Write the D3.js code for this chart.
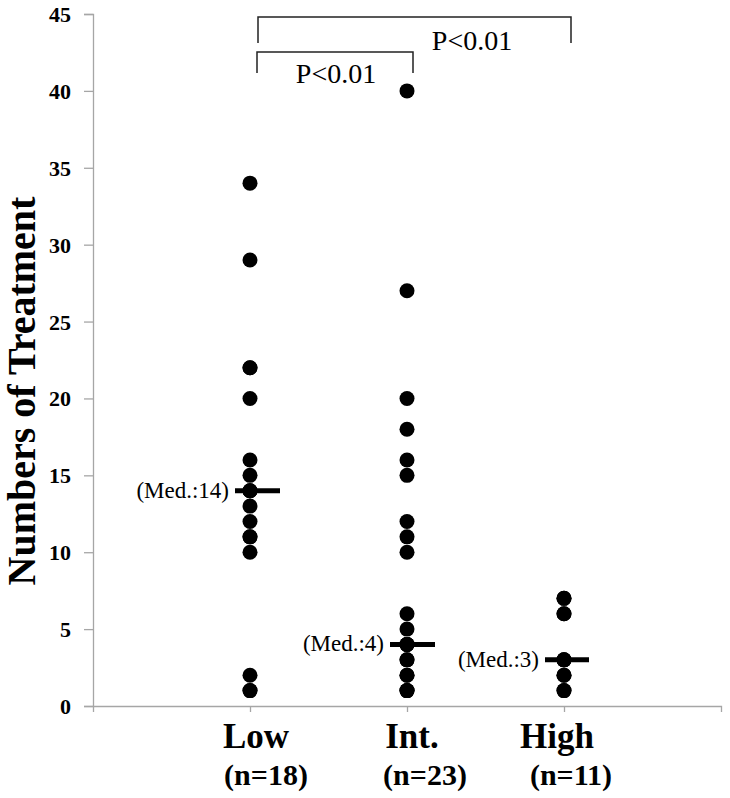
<!DOCTYPE html>
<html><head><meta charset="utf-8">
<script src="https://cdn.jsdelivr.net/npm/d3@7"></script>
<style>body{margin:0;background:#fff}svg{display:block}</style>
</head><body>
<script>
const categories = ["Low", "Int.", "High"];
const nLabels = ["(n=18)", "(n=23)", "(n=11)"];
const lowValues = [1,1,2,10,11,11,12,13,14,14,14,15,16,20,22,22,29,34];
const intValues = [1,1,1,2,2,3,3,4,4,4,4,4,5,6,10,11,12,15,16,18,20,27,40];
const highValues = [1,1,2,2,3,3,3,6,6,7,7];
const medians = [14, 4, 3];
const medianLabels = ["(Med.:14)", "(Med.:4)", "(Med.:3)"];
const yTicks = [0,5,10,15,20,25,30,35,40,45];
const pLabels = ["P<0.01", "P<0.01"];

const W = 730, H = 798;
const svg = d3.select("body").append("svg").attr("width", W).attr("height", H);
const x = d3.scaleLinear().domain([0, 4]).range([93, 721]);
const y = d3.scaleLinear().domain([0, 45]).range([706, 14]);
const serif = "'Liberation Serif','Times New Roman',serif";
const axisCol = "#a6a6a6";

// Y axis
const yAxis = svg.append("g").attr("transform", `translate(${x(0)},0)`)
  .call(d3.axisLeft(y).tickValues(yTicks).tickSize(9).tickPadding(13));
yAxis.select(".domain").attr("stroke", axisCol).attr("stroke-width", 1.3);
yAxis.selectAll(".tick line").attr("stroke", axisCol).attr("stroke-width", 1.3);
yAxis.selectAll(".tick text").attr("font-family", serif).attr("font-size", 22)
  .attr("font-weight", "bold").attr("fill", "#000").attr("dy", "0.34em");

// X axis
const xAxis = svg.append("g").attr("transform", `translate(0,${y(0)})`)
  .call(d3.axisBottom(x).tickValues([1,2,3]).tickSize(6).tickFormat(""));
xAxis.select(".domain").attr("stroke", axisCol).attr("stroke-width", 1.3);
xAxis.selectAll(".tick line").attr("stroke", axisCol).attr("stroke-width", 1.3);

// Y title
svg.append("text").attr("transform", `translate(35,391) rotate(-90)`)
  .attr("text-anchor", "middle").attr("font-family", serif).attr("font-size", 40)
  .attr("font-weight", "bold").text("Numbers of Treatment");

// Category labels
const catDx = [6, 5, -7];
const nDx = [16, 18, 7];
categories.forEach((c, i) => {
  svg.append("text").attr("x", x(i + 1) + catDx[i]).attr("y", 748)
    .attr("text-anchor", "middle").attr("font-family", serif).attr("font-size", 35)
    .attr("font-weight", "bold").text(c);
  svg.append("text").attr("x", x(i + 1) + nDx[i]).attr("y", 785)
    .attr("text-anchor", "middle").attr("font-family", serif).attr("font-size", 30)
    .attr("font-weight", "bold").text(nLabels[i]);
});

// Dots
const groups = [lowValues, intValues, highValues];
groups.forEach((vals, i) => {
  svg.append("g").selectAll("circle").data(vals).join("circle")
    .attr("cx", x(i + 1)).attr("cy", d => y(d)).attr("r", 7.5).attr("fill", "#000");
});

// Medians
const medHalf = [[-15, 30], [-17, 28], [-19, 25]];
medians.forEach((m, i) => {
  svg.append("line").attr("x1", x(i + 1) + medHalf[i][0]).attr("x2", x(i + 1) + medHalf[i][1])
    .attr("y1", y(m)).attr("y2", y(m)).attr("stroke", "#000").attr("stroke-width", 5);
  svg.append("text").attr("x", x(i + 1) + medHalf[i][0] - 6).attr("y", y(m)).attr("dy", "0.3em")
    .attr("text-anchor", "end").attr("font-family", serif).attr("font-size", 23)
    .text(medianLabels[i]);
});

// Brackets
function bracket(x1, x2, yTop, yBot) {
  svg.append("path").attr("d", `M${x1},${yBot}V${yTop}H${x2}V${yBot}`)
    .attr("fill", "none").attr("stroke", "#222").attr("stroke-width", 1.5);
}
bracket(x(1) + 8, x(3) + 7, 17, 43);
bracket(x(1) + 7, x(2) + 6, 52, 73);
svg.append("text").attr("x", 472).attr("y", 50).attr("text-anchor", "middle")
  .attr("font-family", serif).attr("font-size", 28).text(pLabels[1]);
svg.append("text").attr("x", 336).attr("y", 83).attr("text-anchor", "middle")
  .attr("font-family", serif).attr("font-size", 28).text(pLabels[0]);
</script>
</body></html>
